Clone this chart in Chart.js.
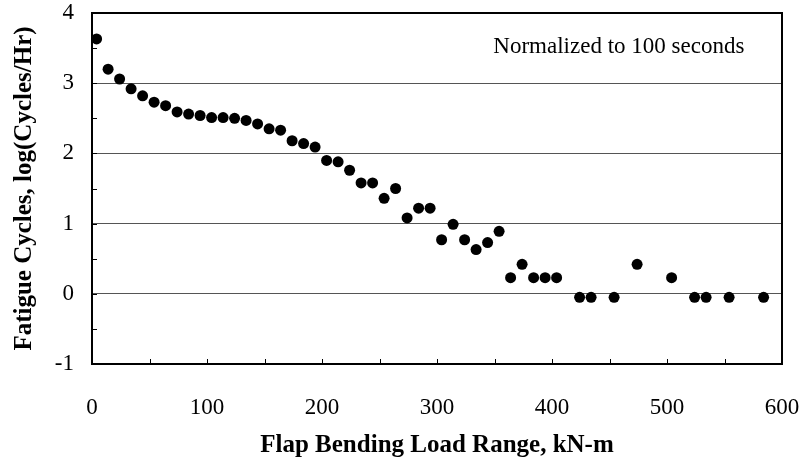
<!DOCTYPE html>
<html>
<head>
<meta charset="utf-8">
<script src="https://cdn.jsdelivr.net/npm/chart.js@4/dist/chart.umd.min.js"></script>
<style>
  html, body { margin: 0; padding: 0; background: #fff; }
  #wrap { width: 806px; height: 464px; }
</style>
</head>
<body>
<div id="wrap"><canvas id="c" width="806" height="464"></canvas></div>
<script>
// Flap bending load range (kN-m)
const loadRange = [4, 14, 24, 34, 44, 54, 64, 74, 84, 94,
  104, 114, 124, 134, 144, 154, 164, 174, 184, 194,
  204, 214, 224, 234, 244, 254, 264, 274, 284, 294,
  304, 314, 324, 334, 344, 354, 364, 374, 384, 394,
  404, 424, 434, 454, 474, 504, 524, 534, 554, 584];
// log(Cycles/Hr)
const logCycles = [3.63, 3.20, 3.06, 2.92, 2.82, 2.73, 2.68, 2.59, 2.56, 2.54,
  2.51, 2.51, 2.50, 2.47, 2.42, 2.35, 2.33, 2.18, 2.14, 2.09,
  1.90, 1.88, 1.76, 1.58, 1.58, 1.36, 1.50, 1.08, 1.22, 1.22,
  0.77, 0.99, 0.77, 0.63, 0.73, 0.89, 0.23, 0.42, 0.23, 0.23,
  0.23, -0.05, -0.05, -0.05, 0.42, 0.23, -0.05, -0.05, -0.05, -0.05];

const xTitle = 'Flap Bending Load Range, kN-m';
const yTitle = 'Fatigue Cycles, log(Cycles/Hr)';
const note = 'Normalized to 100 seconds';
const noteAt = { x: 349, y: 3.51 };

const points = loadRange.map((x, i) => ({ x: x, y: logCycles[i] }));

const serif = '"Liberation Serif", "Times New Roman", serif';

const framePlugin = {
  id: 'frame',
  afterDatasetsDraw(chart) {
    const { ctx, chartArea: a, scales } = chart;
    const xs = scales.x, ys = scales.y;
    ctx.save();
    ctx.strokeStyle = '#000';
    ctx.lineWidth = 1;
    for (let v = -1; v <= 4.001; v += 0.5) {
      const py = Math.round(ys.getPixelForValue(v)) + 0.5;
      ctx.beginPath();
      ctx.moveTo(a.left, py);
      ctx.lineTo(a.left + 5, py);
      ctx.stroke();
    }
    for (let v = 0; v <= 600; v += 50) {
      const px = Math.round(xs.getPixelForValue(v)) + 0.5;
      ctx.beginPath();
      ctx.moveTo(px, a.bottom);
      ctx.lineTo(px, a.bottom - 5);
      ctx.stroke();
    }
    ctx.lineWidth = 2;
    ctx.strokeRect(a.left, a.top, a.right - a.left, a.bottom - a.top);
    ctx.fillStyle = '#000';
    ctx.font = '23px ' + serif;
    ctx.textAlign = 'left';
    ctx.textBaseline = 'middle';
    ctx.fillText(note, xs.getPixelForValue(noteAt.x), ys.getPixelForValue(noteAt.y));
    ctx.restore();
  }
};

new Chart(document.getElementById('c'), {
  type: 'scatter',
  data: {
    datasets: [{
      data: points,
      backgroundColor: '#000',
      borderColor: '#000',
      pointRadius: 5.5,
      pointHoverRadius: 5.5,
      borderWidth: 0
    }]
  },
  options: {
    responsive: false,
    animation: false,
    events: [],
    layout: { padding: { left: 0, right: 24, top: 13, bottom: 0 } },
    plugins: { legend: { display: false }, tooltip: { enabled: false } },
    scales: {
      x: {
        type: 'linear',
        min: 0, max: 600,
        afterFit(scale) { scale.height = 100; scale.paddingLeft = 0; scale.paddingRight = 0; },
        ticks: { stepSize: 100, color: '#000', padding: 30, maxRotation: 0,
          font: { family: serif, size: 23 } },
        grid: { display: false, drawTicks: false },
        border: { display: false },
        title: { display: true, text: xTitle, color: '#000',
          font: { family: serif, size: 25, weight: 'bold' },
          padding: { top: 0, bottom: 3 } }
      },
      y: {
        type: 'linear',
        min: -1, max: 4,
        afterFit(scale) { scale.width = 92; scale.paddingTop = 0; scale.paddingBottom = 0; },
        ticks: { stepSize: 1, color: '#000', padding: 18,
          font: { family: serif, size: 23 } },
        grid: {
          drawTicks: false,
          color: (c) => (c.tick && (c.tick.value === -1 || c.tick.value === 4)) ? 'rgba(0,0,0,0)' : '#555',
          lineWidth: 1
        },
        border: { display: false },
        title: { display: true, text: yTitle, color: '#000',
          font: { family: serif, size: 25, weight: 'bold' },
          padding: { top: 10, bottom: 0 } }
      }
    }
  },
  plugins: [framePlugin]
});
</script>
</body>
</html>
